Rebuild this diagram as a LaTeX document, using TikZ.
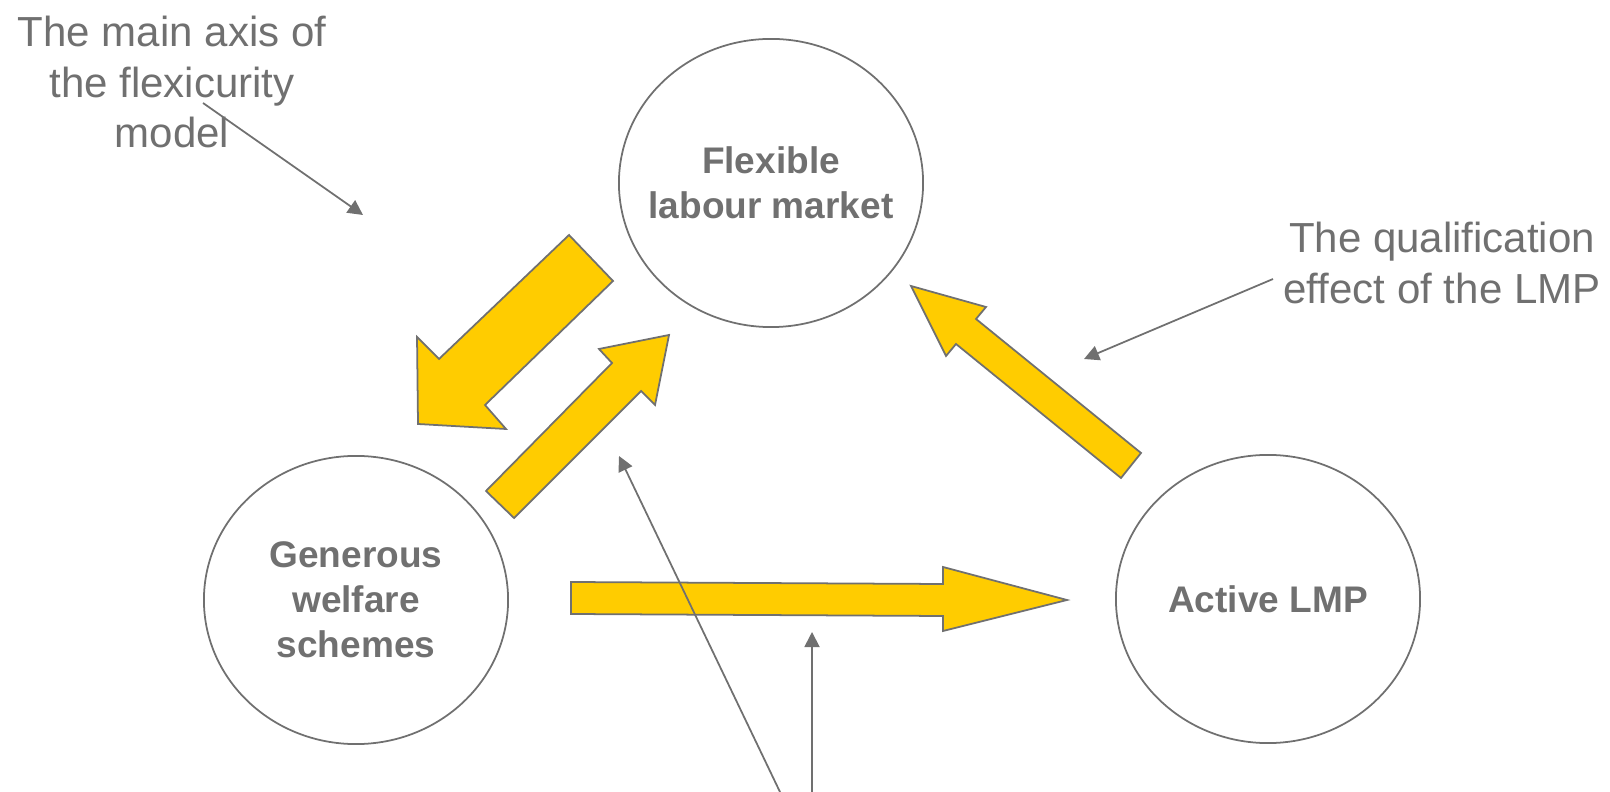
\documentclass[tikz,border=0pt]{standalone}
\usepackage{fontspec}
\setmainfont{Liberation Sans}
\usetikzlibrary{shapes.geometric,arrows.meta}
\definecolor{txtgray}{HTML}{707070}
\definecolor{linegray}{HTML}{707070}
\definecolor{gold}{HTML}{FFCC00}
\begin{document}
\begin{tikzpicture}[x=0.01cm,y=-0.01cm,
  circ/.style={ellipse,draw=linegray,line width=0.5pt,minimum width=3.04cm,minimum height=2.88cm,
    inner xsep=-1cm,inner ysep=-0.5cm,align=center,text=txtgray,
    font=\fontsize{10.53}{12.8}\selectfont\bfseries},
  lbl/.style={inner sep=0pt,align=center,text=txtgray,font=\fontsize{11.95}{14.5}\selectfont},
  block/.style={fill=gold,draw=linegray,line width=0.5pt,line join=miter},
  annot/.style={draw=linegray,line width=0.5pt,-{Triangle[length=0.15cm,width=0.15cm]}}]
\useasboundingbox (0,0) rectangle (1610,792);

% main nodes
\node[circ] (flex) at (771,183) {Flexible\\labour market};
\node[circ] (gen) at (356,600) {Generous\\welfare\\schemes};
\node[circ] (alp) at (1268,599) {Active LMP};

% annotation labels
\node[lbl] (axis) at (172,82) {The main axis of\\the flexicurity\\model};
\node[lbl] (qual) at (1442,263) {The qualification\\effect of the LMP};

% block arrows
\draw[block] (569,235) -- (439,359) -- (417,337) -- (418,424) -- (506,429) -- (485,405) -- (613,281) -- cycle;
\draw[block] (486,491) -- (612,363) -- (599,349) -- (669,335) -- (655,405) -- (641,391) -- (514,518) -- cycle;
\draw[block] (1141,453) -- (976,319) -- (986,307) -- (911,286) -- (946,356) -- (956,344) -- (1121,478) -- cycle;
\draw[block] (571,582) -- (943,584) -- (943,567) -- (1067,600) -- (943,631) -- (943,616) -- (571,614) -- cycle;

% annotation connectors
\coordinate (axisS) at (203,103);
\coordinate (axisE) at (363,215);
\coordinate (qualS) at (1273,279);
\coordinate (qualE) at (1084,359);
\coordinate (botAS) at (780,792);
\coordinate (botAE) at (619,456);
\coordinate (botBS) at (812,792);
\coordinate (botBE) at (812,632);
\draw[annot] (axisS) -- (axisE);
\draw[annot] (qualS) -- (qualE);
\draw[annot] (botAS) -- (botAE);
\draw[annot] (botBS) -- (botBE);
\end{tikzpicture}
\end{document}
